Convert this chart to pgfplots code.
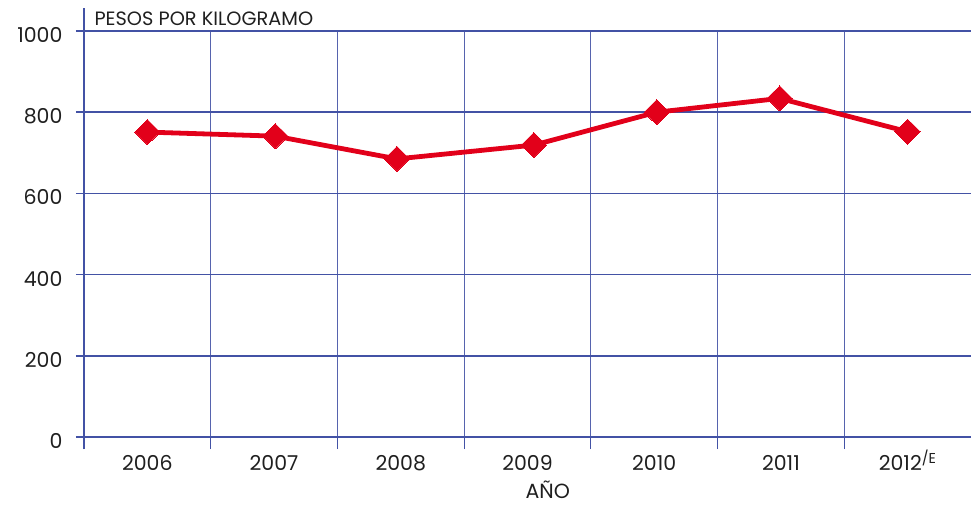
\documentclass[border=0pt]{standalone}
\usepackage{pgfplots}
\pgfplotsset{compat=1.18}
\usepackage{fontspec}
\setmainfont{Poppins}
\definecolor{gridblue}{HTML}{4352A5}
\definecolor{lred}{HTML}{E2001A}
\begin{document}
\begin{tikzpicture}
\begin{axis}[
 name=ax, at={(0,0)}, anchor=south west,
 scale only axis, width=887pt, height=406pt,
 xmin=0, xmax=7, ymin=0, ymax=1000,
 clip=false,
 axis x line=bottom, axis y line=left,
 axis line style={-, gridblue, line width=1.8pt},
 y axis line style={shorten <=-12pt, shorten >=-23pt},
 xtick={0,...,6}, xticklabels={},
 ytick={0,200,...,1000},
 xmajorgrids, ymajorgrids,
 x grid style={gridblue!90, line width=1.1pt},
 y grid style={gridblue, line width=1.6pt},
 tick style={gridblue, line width=1.2pt},
 tick align=outside,
 major tick length=12pt,
 y tick style={xshift=4pt, line width=1.6pt},
 extra x ticks={0.5,1.5,2.5,3.5,4.5,5.5,6.5},
 extra x tick labels={2006,2007,2008,2009,2010,2011,2012\textsuperscript{/E}},
 extra x tick style={grid=none, tick style={draw=none}},
 tick label style={font=\fontsize{20.5}{24}\selectfont, text=black!88},
 /pgf/number format/assume math mode=true,
 /pgf/number format/1000 sep={},
 yticklabel style={xshift=-6pt, yshift=-4pt},
 xticklabel style={text height=15pt, yshift=-3pt},
]
\addplot[lred, line width=4.8pt, mark=diamond*, mark size=12.5pt,
  mark options={solid, fill=lred, draw=lred, line width=0pt, xscale=1.35}]
  coordinates {(0.5,751)(1.51,741)(2.47,685)(3.55,719)(4.52,800)(5.49,834)(6.5,752)};
\node[anchor=base west, font=\fontsize{19.3}{22}\selectfont, text=black!88] at ([xshift=7pt, yshift=5pt]axis cs:0,1000) {PESOS POR KILOGRAMO};
\node[anchor=base, font=\fontsize{20.5}{24}\selectfont, text=black!88, inner sep=1pt] at ([yshift=-61pt]axis cs:3.66,0) {AÑO};
\end{axis}
\pgfresetboundingbox
\path[use as bounding box] (-84pt,-67pt) rectangle (887pt,437pt);
\end{tikzpicture}
\end{document}
